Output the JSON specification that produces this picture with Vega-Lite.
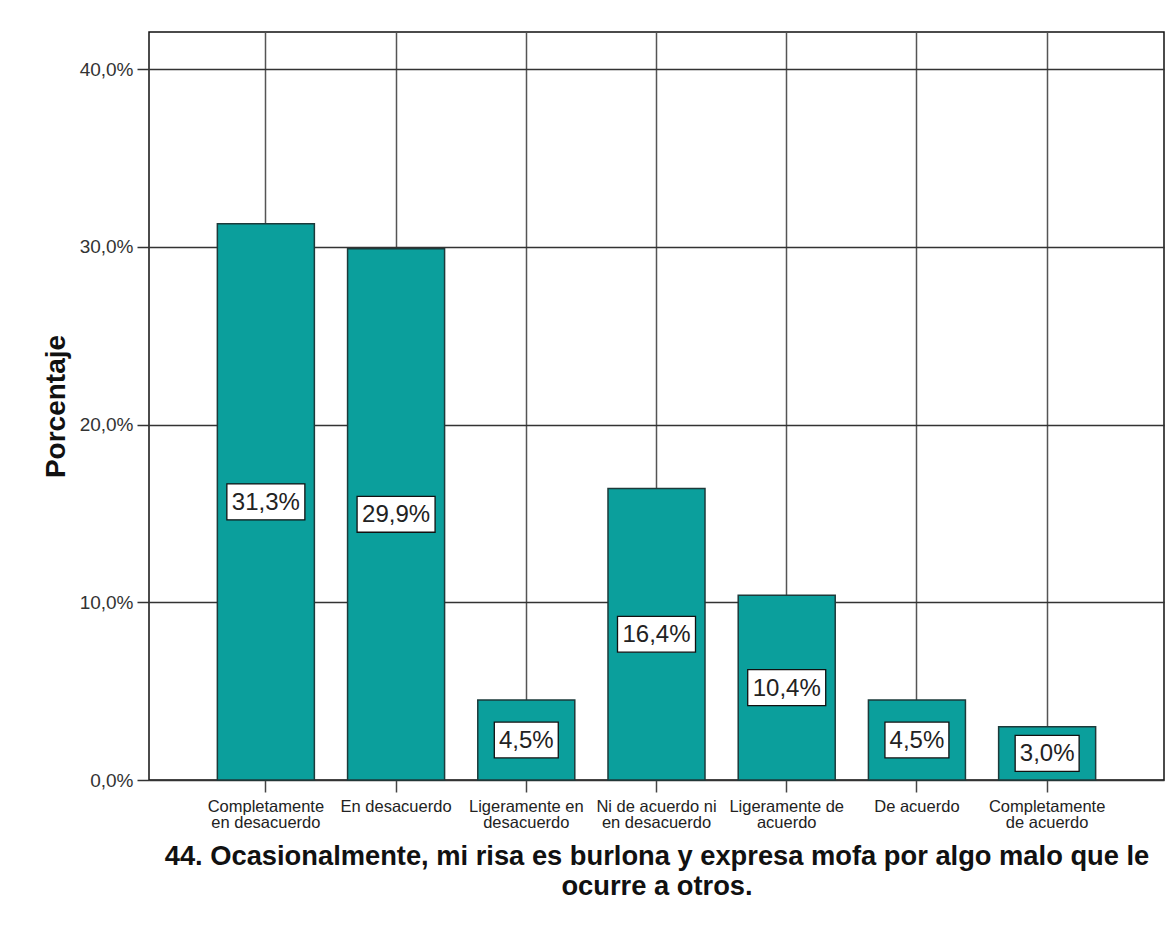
{
  "$schema": "https://vega.github.io/schema/vega-lite/v6.json",
  "width": 1015,
  "height": 748,
  "autosize": {"type": "none"},
  "padding": {"left": 149, "top": 32, "right": 9, "bottom": 164},
  "background": "white",
  "data": {
    "values": [
      {"cat": "Completamente en desacuerdo", "pct": 0.313},
      {"cat": "En desacuerdo", "pct": 0.299},
      {"cat": "Ligeramente en desacuerdo", "pct": 0.045},
      {"cat": "Ni de acuerdo ni en desacuerdo", "pct": 0.164},
      {"cat": "Ligeramente de acuerdo", "pct": 0.104},
      {"cat": "De acuerdo", "pct": 0.045},
      {"cat": "Completamente de acuerdo", "pct": 0.030}
    ]
  },
  "encoding": {
    "x": {
      "field": "cat",
      "type": "nominal",
      "sort": null,
      "scale": {"paddingInner": 0.255, "paddingOuter": 0.525},
      "axis": {
        "title": ["44. Ocasionalmente, mi risa es burlona y expresa mofa por algo malo que le", "ocurre a otros."],
        "titleFont": "Liberation Sans",
        "titleFontSize": 27.3,
        "titleFontWeight": "bold",
        "titleColor": "#111111",
        "titleLineHeight": 30,
        "titlePadding": 11,
        "labelAngle": 0,
        "labelFont": "Liberation Sans",
        "labelFontSize": 16.5,
        "labelColor": "#222222",
        "labelLineHeight": 16.5,
        "labelPadding": 6,
        "labelBaseline": "top",
        "labelOverlap": false,
        "labelLimit": 300,
        "labelExpr": "({'Completamente en desacuerdo': ['Completamente', 'en desacuerdo'], 'En desacuerdo': 'En desacuerdo', 'Ligeramente en desacuerdo': ['Ligeramente en', 'desacuerdo'], 'Ni de acuerdo ni en desacuerdo': ['Ni de acuerdo ni', 'en desacuerdo'], 'Ligeramente de acuerdo': ['Ligeramente de', 'acuerdo'], 'De acuerdo': 'De acuerdo', 'Completamente de acuerdo': ['Completamente', 'de acuerdo']})[datum.label]",
        "bandPosition": 0.5,
        "tickSize": 12,
        "tickColor": "#444444",
        "tickWidth": 1.5,
        "grid": true,
        "gridColor": "#555555",
        "gridWidth": 1.5,
        "domain": false
      }
    }
  },
  "layer": [
    {
      "mark": {"type": "bar", "fill": "#0b9f9c", "stroke": "#1d3a3a", "strokeWidth": 1.5},
      "encoding": {
        "y": {
          "field": "pct",
          "type": "quantitative",
          "scale": {"domain": [0, 0.4209], "nice": false, "zero": true},
          "axis": {
            "title": "Porcentaje",
            "titleFont": "Liberation Sans",
            "titleFontSize": 28,
            "titleFontWeight": "bold",
            "titleColor": "#111111",
            "titlePadding": 9,
            "format": ".1%",
            "values": [0, 0.1, 0.2, 0.3, 0.4],
            "labelFont": "Liberation Sans",
            "labelFontSize": 19,
            "labelColor": "#333333",
            "labelPadding": 4,
            "tickSize": 12,
            "tickColor": "#333333",
            "tickWidth": 1.5,
            "grid": true,
            "gridColor": "#333333",
            "gridWidth": 1.5,
            "domain": false
          }
        }
      }
    },
    {
      "mark": {"type": "point", "filled": true, "fill": "white", "stroke": "#111111", "strokeWidth": 1.3, "opacity": 1, "size": 6084},
      "encoding": {
        "y": {"field": "pct", "type": "quantitative", "scale": {"domain": [0, 0.8418], "nice": false, "zero": true}, "axis": null},
        "shape": {
          "condition": {"test": "datum.pct >= 0.1", "value": "M-1,-0.46L1,-0.46L1,0.46L-1,0.46Z"},
          "value": "M-0.82,-0.46L0.82,-0.46L0.82,0.46L-0.82,0.46Z"
        }
      }
    },
    {
      "mark": {"type": "text", "font": "Liberation Sans", "fontSize": 24, "color": "#222222", "baseline": "middle", "align": "center", "dy": 1},
      "encoding": {
        "y": {"field": "pct", "type": "quantitative", "scale": {"domain": [0, 0.8418], "nice": false, "zero": true}, "axis": null},
        "text": {"field": "pct", "type": "quantitative", "format": ".1%"}
      }
    }
  ],
  "resolve": {"scale": {"y": "independent"}, "axis": {"y": "independent"}},
  "config": {
    "locale": {"number": {"decimal": ",", "thousands": ".", "grouping": [3], "currency": ["", " €"]}},
    "view": {"stroke": "#111111", "strokeWidth": 1.5}
  }
}
